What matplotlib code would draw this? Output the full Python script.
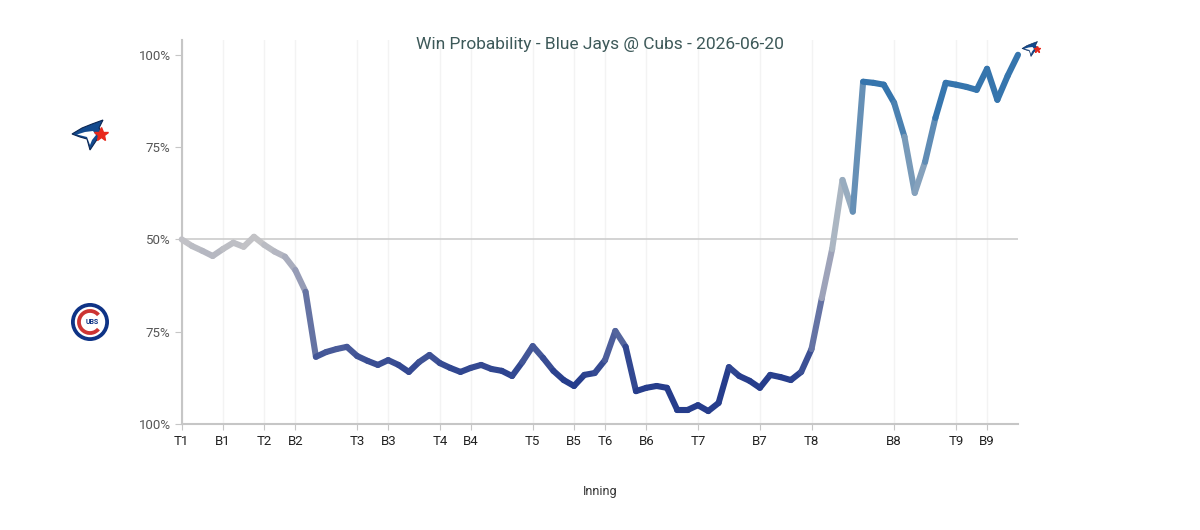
import matplotlib
matplotlib.use('Agg')
import matplotlib.pyplot as plt
import numpy as np
from matplotlib.collections import LineCollection
from matplotlib.patches import Circle, Wedge, Polygon

plt.rcParams['font.family'] = ['Roboto', 'DejaVu Sans']

# Blue Jays win probability (%) after each play
wp_blue_jays = [
    50.0, 48.2, 46.9, 45.5, 47.4, 49.1, 48.0, 50.7, 48.5, 46.7,
    45.3, 41.7, 35.8, 18.2, 19.5, 20.3, 20.9, 18.4, 17.1, 16.0,
    17.3, 16.0, 14.1, 16.8, 18.7, 16.5, 15.2, 14.1, 15.2, 16.0,
    14.9, 14.4, 13.0, 16.8, 21.1, 17.9, 14.4, 11.9, 10.3, 13.3,
    13.8, 17.3, 25.2, 20.9, 8.9, 9.8, 10.3, 9.8, 3.8, 3.8,
    5.1, 3.5, 5.7, 15.4, 13.0, 11.7, 9.8, 13.3, 12.7, 11.9,
    14.1, 20.3, 34.1, 47.4, 66.1, 57.5, 92.7, 92.4, 91.9, 87.0,
    77.8, 62.6, 71.0, 82.9, 92.4, 91.9, 91.3, 90.5, 96.2, 87.8,
    94.3, 100.0,
]

# half-inning starts (play index) and their labels
inning_labels = ['T1', 'B1', 'T2', 'B2', 'T3', 'B3', 'T4', 'B4', 'T5',
                 'B5', 'T6', 'B6', 'T7', 'B7', 'T8', 'B8', 'T9', 'B9']
inning_starts = [0, 4, 8, 11, 17, 20, 25, 28, 34,
                 38, 41, 45, 50, 56, 61, 69, 75, 78]

y_ticks = [0, 0.25, 0.5, 0.75, 1.0]
y_labels = ['100%', '75%', '50%', '75%', '100%']

GRAY = np.array([0.77, 0.77, 0.78])
CUBS = np.array([0.15, 0.24, 0.55])
JAYS = np.array([0.21, 0.46, 0.68])


def wp_colour(v):
    d = v - 0.5
    t = min(1.0, abs(d) / 0.38)
    target = CUBS if d < 0 else JAYS
    return tuple(GRAY + (target - GRAY) * t)


fig = plt.figure(figsize=(12, 5.3), dpi=100)
ax = fig.add_axes([181.7 / 1200, 0.2, (1018 - 181.7) / 1200, (424 - 40) / 530])

x = np.arange(len(wp_blue_jays))
y = np.array(wp_blue_jays) / 100
pts = np.column_stack([x, y]).reshape(-1, 1, 2)
segs = np.concatenate([pts[:-1], pts[1:]], axis=1)
cols = [wp_colour((a + b) / 2) for a, b in zip(y[:-1], y[1:])]
lc = LineCollection(segs, colors=cols, linewidths=4.4, capstyle='round',
                    joinstyle='round', zorder=3)
lc.set_clip_on(False)
ax.add_collection(lc)

ax.axhline(0.5, color='#cccccc', lw=1.2, zorder=1)
ax.set_xlim(0, len(wp_blue_jays) - 1)
ax.set_ylim(0, 1.04)

ax.set_xticks(inning_starts, inning_labels)
ax.set_yticks(y_ticks, y_labels)
ax.grid(axis='x', color='#f3f3f3', lw=1)
ax.set_axisbelow(True)
for s in ['top', 'right']:
    ax.spines[s].set_visible(False)
for s in ['left', 'bottom']:
    ax.spines[s].set_color('#c6c6c6')
    ax.spines[s].set_linewidth(1.5)
ax.tick_params(axis='y', length=5, color='#c6c6c6', labelsize=9.5,
               labelcolor='#555555', pad=3)
ax.tick_params(axis='x', length=4, color='#c6c6c6', labelsize=9.5,
               labelcolor='#222222', pad=4)

fig.text(0.5, 1 - 45 / 530, 'Win Probability - Blue Jays @ Cubs - 2026-06-20',
         ha='center', va='center', fontsize=12.5, color='#3d5959')
fig.text(0.5, 1 - 491 / 530, 'Inning', ha='center', va='center',
         fontsize=9, color='#333333')

# logos, drawn in pixel coordinates
ov = fig.add_axes([0, 0, 1, 1])
ov.set_xlim(0, 1200)
ov.set_ylim(530, 0)
ov.axis('off')


def jays_logo(cx, cy, s):
    head = [(-18, 1), (-8, -5), (2, -9), (13, -13), (9, -5), (13, 0),
            (6, 8), (0, 17), (-3, 6), (-10, 4)]
    face = [(-13, 1.5), (-5, -1), (3, -2), (6, 2), (2, 7), (0, 12), (-3, 4)]
    ov.add_patch(Polygon([(cx + s * a, cy + s * b) for a, b in head],
                         closed=True, fc='#134a8e', ec='#0b2551', lw=0.8 * s))
    ov.add_patch(Polygon([(cx + s * a, cy + s * b) for a, b in face],
                         closed=True, fc='white', ec='none'))
    ov.plot(cx + 11 * s, cy + 1 * s, marker='*', ms=10 * s, color='#e8291c',
            mec='#e8291c')


def cubs_logo(cx, cy, r):
    ov.add_patch(Circle((cx, cy), r, fc='#0e3386', ec='none'))
    ov.add_patch(Circle((cx, cy), r * 0.8, fc='white', ec='none'))
    ov.add_patch(Wedge((cx, cy), r * 0.68, 40, 320, width=r * 0.2,
                       fc='#cc3433', ec='none'))
    ov.text(cx + r * 0.12, cy + 0.5, 'UBS', ha='center', va='center',
            fontsize=5, color='#0e3386', fontweight='bold')


jays_logo(90, 133, 1.0)
cubs_logo(90, 322, 19)
jays_logo(1031, 48, 0.5)

fig.savefig('out.png', dpi=100)
